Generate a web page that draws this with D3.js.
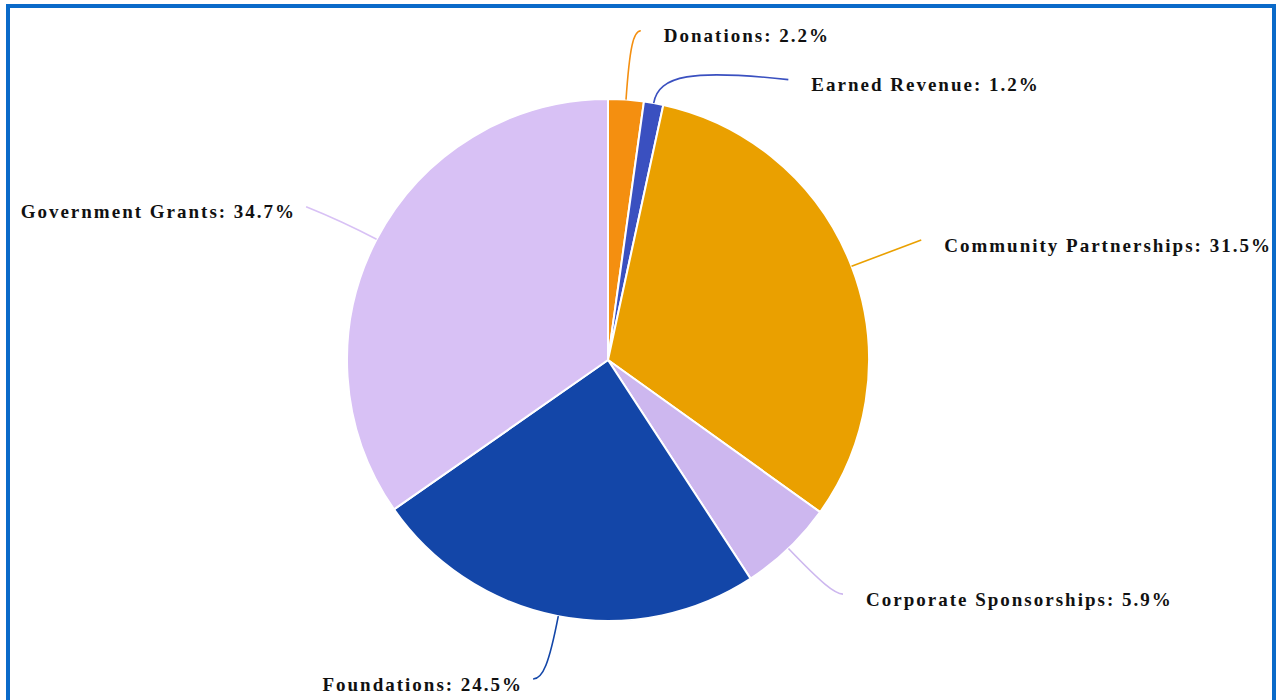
<!DOCTYPE html>
<html>
	<head>
		<title>Funding Sources Pie</title>

		<!--libs-->
		<script src="https://d3js.org/d3.v7.min.js"></script>

		<!--css-->
		<style>
			html, body {
				margin: 0;
				padding: 0;
				background: #fff;
				overflow: hidden;
			}

			.frame {
				position: absolute;
				left: 6px;
				top: 4px;
				width: 1262px;
				height: 730px;
				border: 4px solid #0a6ac9;
				overflow: hidden;
			}

			.frame svg {
				position: absolute;
				left: -10px;
				top: -8px;
			}

			.labels text {
				font-family: "Liberation Serif", "Times New Roman", serif;
				font-weight: bold;
				font-size: 19px;
				letter-spacing: 2px;
				fill: #111;
			}
		</style>
	</head>
	<body>

		<div class="frame"><div class="piechart"></div></div>

		<script>
			// funding sources, clockwise from 12 o'clock
			var categories = ["Donations", "Earned Revenue", "Community Partnerships", "Corporate Sponsorships", "Foundations", "Government Grants"];
			var shares = [2.2, 1.2, 31.5, 5.9, 24.5, 34.7];

			// label leader line layout: radial length, horizontal length, vertical shift at end
			var labelLayout = [
				{ len1: 69, len2: 10, dy: 0 },
				{ len1: 38, len2: 128, dy: 14 },
				{ len1: 20, len2: 51, dy: -19 },
				{ len1: 63, len2: 11, dy: 0 },
				{ len1: 64, len2: 13, dy: 0 },
				{ len1: 40, len2: 35, dy: -14 }
			];

			var colors = ["#f48f10", "#3a50c0", "#eaa000", "#cdb7ef", "#1346a8", "#d8c1f5"];

			var width = 1278,
				height = 700,
				cx = 608,
				cy = 360,
				radius = 261;

			var data = categories.map(function(c, i) {
				return { label: c, value: shares[i], index: i };
			});

			var color = d3.scaleOrdinal()
				.domain(categories)
				.range(colors);

			var pie = d3.pie()
				.sort(null)
				.value(function(d) { return d.value; });

			var arc = d3.arc()
				.innerRadius(0)
				.outerRadius(radius);

			var svg = d3.select(".piechart")
				.append("svg")
				.attr("width", width)
				.attr("height", height)
				.append("g")
				.attr("transform", "translate(" + cx + "," + cy + ")");

			var arcs = pie(data);

			svg.append("g")
				.attr("class", "segments")
				.selectAll("path")
				.data(arcs)
				.enter().append("path")
				.attr("d", arc)
				.style("fill", function(d) { return color(d.data.label); })
				.style("stroke", "#fff")
				.style("stroke-width", 2);

			function pointAt(angle, r) {
				return [Math.sin(angle) * r, -Math.cos(angle) * r];
			}

			// leader line geometry
			arcs.forEach(function(d, i) {
				var mid = (d.startAngle + d.endAngle) / 2;
				var lay = labelLayout[i];
				var side = Math.sin(mid) >= 0 ? 1 : -1;
				var a = pointAt(mid, radius);
				var b = pointAt(mid, radius + lay.len1);
				var c = [b[0] + side * lay.len2, b[1] + lay.dy];
				d.side = side;
				d.pts = [a, b, c];
			});

			function leaderPath(p) {
				var a = p[0], b = p[1], c = p[2];
				var c1 = [a[0] + 0.75 * (b[0] - a[0]), a[1] + 0.75 * (b[1] - a[1])];
				var c2 = [b[0] + 0.25 * (c[0] - b[0]), b[1] + 0.25 * (c[1] - b[1])];
				return "M" + a + "C" + c1 + " " + c2 + " " + c;
			}

			var lines = svg.append("g").attr("class", "leaders");

			lines.selectAll("path")
				.data(arcs)
				.enter().append("path")
				.attr("d", function(d) { return leaderPath(d.pts); })
				.style("fill", "none")
				.style("stroke", function(d) { return color(d.data.label); })
				.style("stroke-width", 1.6);

			var labels = svg.append("g").attr("class", "labels");

			labels.selectAll("text")
				.data(arcs)
				.enter().append("text")
				.attr("x", function(d) { return d.pts[2][0] + (d.side > 0 ? 23 : -10); })
				.attr("y", function(d) { return d.pts[2][1] + 5; })
				.attr("dominant-baseline", "central")
				.attr("text-anchor", function(d) { return d.side > 0 ? "start" : "end"; })
				.text(function(d) { return d.data.label + ": " + d3.format(".1f")(d.data.value) + "%"; });
		</script>

	</body>
</html>
